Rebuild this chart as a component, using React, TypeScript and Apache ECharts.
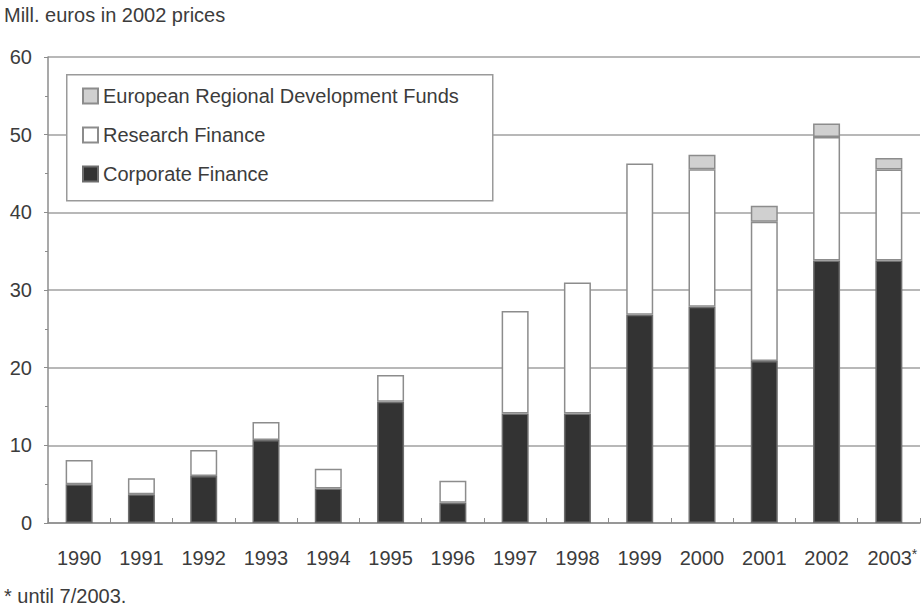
import React, { useEffect, useRef } from "react";
import * as echarts from "echarts";

const years = ["1990","1991","1992","1993","1994","1995","1996","1997","1998","1999","2000","2001","2002","2003"];
const corporateFinance = [5.0, 3.7, 6.05, 10.7, 4.45, 15.6, 2.6, 14.1, 14.1, 26.8, 27.85, 20.85, 33.8, 33.8];
const researchFinance = [3.1, 2.05, 3.35, 2.3, 2.55, 3.45, 2.85, 13.2, 16.85, 19.5, 17.7, 17.95, 15.9, 11.7];
const erdf = [null, null, null, null, null, null, null, null, null, null, 1.85, 2.05, 1.75, 1.5];
const yTicks = { min: 0, max: 60, interval: 10 };

const FONT = "'Liberation Sans', Arial, sans-serif";
const TEXT = "#3c3c3c";
const BORDER = "#8c8c8c";

export default function App() {
  const ref = useRef<HTMLDivElement>(null);
  useEffect(() => {
    if (!ref.current) return;
    const chart = echarts.init(ref.current, undefined, { renderer: "svg" });
    chart.setOption({
      animation: false,
      backgroundColor: "#ffffff",
      textStyle: { fontFamily: FONT, color: TEXT },
      title: [
        { text: "Mill. euros in 2002 prices", left: 4, top: 5, padding: 0,
          textStyle: { fontFamily: FONT, fontSize: 20, fontWeight: "normal", color: TEXT } },
        { text: "* until 7/2003.", left: 4, top: 586, padding: 0,
          textStyle: { fontFamily: FONT, fontSize: 20, fontWeight: "normal", color: TEXT } },
      ],
      graphic: [
        { type: "rect", left: 66, top: 74, z: 3,
          shape: { width: 426, height: 126 },
          style: { fill: "#ffffff", stroke: "#9a9a9a", lineWidth: 1.5 } },
      ],
      legend: {
        orient: "vertical",
        left: 66, top: 74, z: 5,
        padding: [12, 16, 12, 16],
        itemGap: 19,
        itemWidth: 15, itemHeight: 15,
        itemTextGap: 6,
        icon: "rect",
        data: ["European Regional Development Funds", "Research Finance", "Corporate Finance"],
        textStyle: { fontFamily: FONT, fontSize: 20, color: TEXT },
      },
      grid: { left: 48, right: 4, top: 57, bottom: 86 },
      xAxis: {
        type: "category",
        data: years,
        boundaryGap: true,
        axisLine: { lineStyle: { color: "#8c8c8c", width: 1.5 } },
        axisTick: { show: true, inside: true, length: 5, interval: 0, lineStyle: { color: "#8c8c8c" } },
        axisLabel: {
          interval: 0,
          margin: 24, fontSize: 20, lineHeight: 22, fontFamily: FONT, color: TEXT,
          formatter: (v: string) => (v === "2003" ? "{pad|}" + v + "{sup|*}" : v),
          rich: {
            pad: { width: 7, lineHeight: 22 },
            sup: { fontSize: 14, lineHeight: 22, fontFamily: FONT, color: TEXT, verticalAlign: "top" },
          },
        },
      },
      yAxis: {
        type: "value",
        min: yTicks.min, max: yTicks.max, interval: yTicks.interval,
        axisLine: { show: true, lineStyle: { color: "#8c8c8c", width: 1.5 } },
        axisTick: { show: true, length: 4, lineStyle: { color: "#8c8c8c" } },
        minorTick: { show: true, splitNumber: 2, length: 3, lineStyle: { color: "#8c8c8c" } },
        axisLabel: { margin: 16, fontSize: 20, fontFamily: FONT, color: TEXT },
        splitLine: { show: true, lineStyle: { color: "#a0a0a0", width: 1.5 } },
      },
      series: [
        { name: "Corporate Finance", type: "bar", stack: "total", barWidth: 27, data: corporateFinance,
          itemStyle: { color: "#333333", borderColor: "#6e6e6e", borderWidth: 1.5 } },
        { name: "Research Finance", type: "bar", stack: "total", barWidth: 27, data: researchFinance,
          itemStyle: { color: "#ffffff", borderColor: BORDER, borderWidth: 1.5 } },
        { name: "European Regional Development Funds", type: "bar", stack: "total", barWidth: 27, data: erdf,
          itemStyle: { color: "#d0d0d0", borderColor: BORDER, borderWidth: 1.5 } },
      ],
    });
    return () => chart.dispose();
  }, []);
  return <div ref={ref} style={{ position: "fixed", left: 0, top: 0, width: 924, height: 609 }} />;
}
